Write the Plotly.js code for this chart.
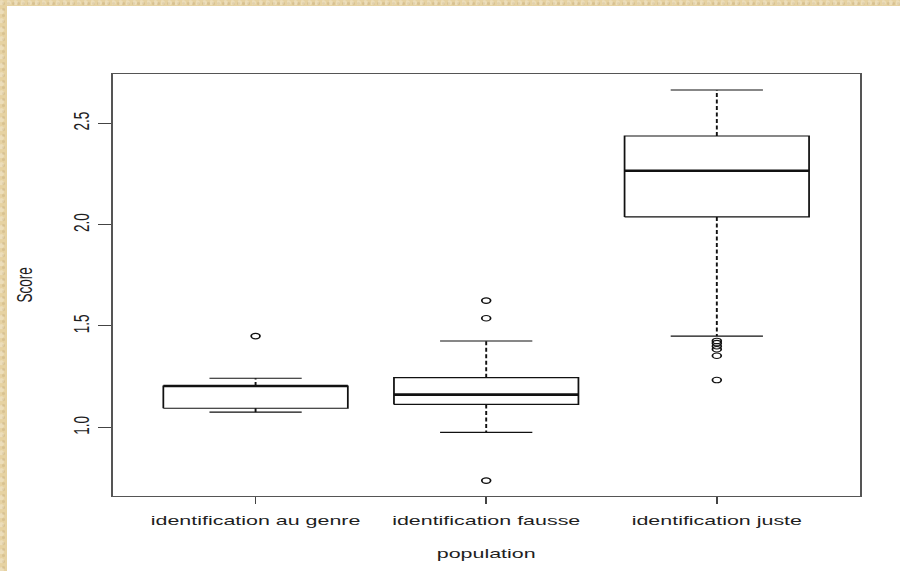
<!DOCTYPE html>
<html>
<head>
<meta charset="utf-8">
<script src="https://cdn.plot.ly/plotly-3.0.1.min.js"></script>
<style>
  html, body { margin:0; padding:0; width:900px; height:571px; overflow:hidden; }
  body {
    background-color:#e6d2a2;
    background-image:
      radial-gradient(circle at 20% 30%, rgba(255,255,255,0.25) 0 2px, transparent 3px),
      radial-gradient(circle at 70% 60%, rgba(150,120,70,0.18) 0 1px, transparent 2px);
    background-size: 7px 9px, 5px 6px;
  }
  #frame { position:absolute; left:7px; top:6px; width:893px; height:565px; background:#ffffff; overflow:hidden; }
  #chart { position:absolute; left:0; top:0; transform-origin:0 0; }
</style>
</head>
<body>
<div id="frame"><div id="chart"></div></div>
<script>
// ---- data ----
const categories = ["identification au genre", "identification fausse", "identification juste"];
const q1 = [1.094, 1.113, 2.038];
const medians = [1.204, 1.161, 2.266];
const q3 = [1.204, 1.245, 2.437];
const lowerWhisker = [1.075, 0.975, 1.450];
const upperWhisker = [1.242, 1.426, 2.664];
const outliersGenre = [1.450];
const outliersFausse = [1.625, 1.538, 0.737];
const outliersJuste = [1.426, 1.415, 1.400, 1.385, 1.353, 1.233];
const yTickVals = [1.0, 1.5, 2.0, 2.5];
const yTickText = ["1.0", "1.5", "2.0", "2.5"];
const xTitle = "population";
const yTitle = "Score";

// ---- geometry helpers ----
const S = 1.6;              // horizontal stretch of the reference image
const FW = 893, FH = 565;   // white frame size
const W = FW / S, H = FH;
const boxHalf = 0.4, stapleHalf = 0.2;

const allOut = [outliersGenre, outliersFausse, outliersJuste];
const pos = categories.map((c, i) => i + 1);

let bx = [], by = [], mx = [], my = [], wx = [], wy = [], sx = [], sy = [], ox = [], oy = [];
pos.forEach((p, i) => {
  bx.push(p - boxHalf, p + boxHalf, p + boxHalf, p - boxHalf, p - boxHalf, null);
  by.push(q1[i], q1[i], q3[i], q3[i], q1[i], null);
  mx.push(p - boxHalf, p + boxHalf, null);
  my.push(medians[i], medians[i], null);
  wx.push(p, p, null, p, p, null);
  wy.push(q3[i], upperWhisker[i], null, q1[i], lowerWhisker[i], null);
  sx.push(p - stapleHalf, p + stapleHalf, null, p - stapleHalf, p + stapleHalf, null);
  sy.push(upperWhisker[i], upperWhisker[i], null, lowerWhisker[i], lowerWhisker[i], null);
  allOut[i].forEach(v => { ox.push(p); oy.push(v); });
});

const lineCol = "#111111";
const traces = [
  {x: wx, y: wy, mode: "lines", line: {color: lineCol, width: 1.2, dash: "4px,2.5px"}, hoverinfo: "skip"},
  {x: sx, y: sy, mode: "lines", line: {color: lineCol, width: 1.1}, hoverinfo: "skip"},
  {x: bx, y: by, mode: "lines", line: {color: lineCol, width: 1.1}, hoverinfo: "skip"},
  {x: mx, y: my, mode: "lines", line: {color: lineCol, width: 2.6}, hoverinfo: "skip"},
  {x: ox, y: oy, mode: "markers", marker: {symbol: "circle-open", size: 5.5, color: lineCol, line: {width: 1.1, color: lineCol}}, hoverinfo: "skip"}
];

const fontFam = "Liberation Sans, Arial, sans-serif";
const txtCol = "#1e1e1e";
const layout = {
  width: W, height: H,
  margin: {l: 106 / S, r: 40 / S, t: 68, b: 75},
  paper_bgcolor: "#ffffff", plot_bgcolor: "#ffffff",
  showlegend: false,
  hovermode: false,
  font: {family: fontFam, size: 13, color: txtCol},
  xaxis: {
    range: [0.38, 3.62],
    tickvals: pos, ticktext: categories,
    ticks: "outside", ticklen: 7, tickwidth: 1, tickcolor: "#444444",
    ticklabelstandoff: 5,
    showline: true, mirror: true, linecolor: "#555555", linewidth: 1.2,
    showgrid: false, zeroline: false,
    tickfont: {family: fontFam, size: 13.4, color: txtCol},
    title: {text: xTitle, font: {family: fontFam, size: 13.4, color: txtCol}, standoff: 21},
    automargin: false
  },
  yaxis: {
    range: [0.661, 2.743],
    tickvals: yTickVals, ticktext: yTickText,
    tickangle: -90,
    ticks: "outside", ticklen: 8, tickwidth: 1, tickcolor: "#444444",
    ticklabelstandoff: 9.5,
    showline: true, mirror: true, linecolor: "#555555", linewidth: 1.2,
    showgrid: false, zeroline: false,
    tickfont: {family: fontFam, size: 13.5, color: txtCol},
    title: {text: yTitle, font: {family: fontFam, size: 13.5, color: txtCol}, standoff: 19.5},
    automargin: false
  }
};

const el = document.getElementById("chart");
el.style.transform = "scaleX(" + S + ")";
Plotly.newPlot(el, traces, layout, {staticPlot: true, displayModeBar: false});
</script>
</body>
</html>
